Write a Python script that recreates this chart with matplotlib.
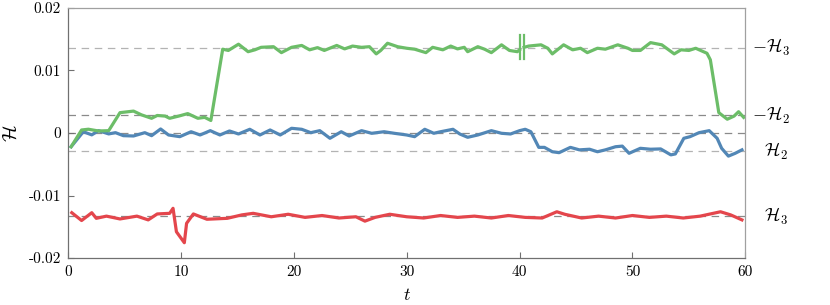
import numpy as np
import matplotlib
matplotlib.use("Agg")
import matplotlib.pyplot as plt

# fonts: computer modern look
plt.rcParams['font.family'] = 'serif'
plt.rcParams['font.serif'] = ['cmr10', 'DejaVu Serif']
plt.rcParams['mathtext.fontset'] = 'cm'
plt.rcParams['axes.unicode_minus'] = False

# values in units of 1e-3
green_t1 = [0.27, 1.2, 1.8, 2.7, 3.6, 4.6, 5.8, 6.5, 7.4, 7.9, 8.6, 9.0, 9.8, 10.6, 11.5, 12.1, 12.65,
            13.7, 14.2, 15.1, 15.95, 16.55, 17.1, 18.2, 18.9, 19.8, 20.7, 21.4, 22.1, 22.7, 23.8, 24.5,
            25.2, 26.0, 26.7, 27.3, 27.7, 28.3, 29.2, 30.0, 30.7, 31.7, 32.3, 33.2, 33.9, 34.5, 35.1,
            35.4, 36.3, 36.9, 37.5, 38.4, 39.1, 39.8, 40.0]
green_v1 = [-2.2, 0.48, 0.6, 0.32, 0.37, 3.25, 3.5, 2.9, 2.35, 2.8, 2.7, 2.35, 2.7, 3.1, 2.35, 2.5, 2.0,
            13.4, 13.2, 14.2, 13.0, 13.3, 13.7, 13.8, 12.85, 13.7, 14.0, 13.3, 13.65, 13.2, 14.0, 13.45,
            13.9, 13.7, 13.8, 12.65, 13.2, 14.35, 13.8, 13.55, 13.4, 12.85, 13.7, 13.3, 13.9, 13.45, 13.7,
            13.0, 13.8, 13.4, 12.85, 14.1, 13.2, 13.0, 13.3]
green_t2 = [40.4, 40.8, 41.9, 42.5, 42.9, 43.9, 44.7, 45.4, 46.0, 46.9, 47.6, 48.7, 49.6, 50.0, 50.7,
            51.6, 52.6, 53.7, 54.3, 55.0, 55.6, 56.6, 56.9, 57.65, 58.4, 59.0, 59.4, 59.85]
green_v2 = [13.7, 13.9, 14.1, 13.55, 12.65, 14.1, 13.3, 13.55, 12.85, 13.55, 13.4, 14.1, 13.55, 13.2, 13.2,
            14.45, 14.1, 12.65, 13.3, 13.2, 13.55, 12.75, 11.7, 3.25, 2.2, 2.7, 3.4, 2.5]

blue_t = [0.27, 1.35, 2.1, 2.7, 3.6, 4.2, 4.9, 5.8, 6.8, 7.4, 8.2, 8.9, 9.9, 10.9, 11.7, 12.6, 13.45, 14.3,
          15.1, 16.1, 17.0, 17.9, 18.8, 19.8, 20.7, 21.5, 22.3, 23.2, 24.2, 24.9, 26.0, 26.9, 28.0, 28.9,
          30.0, 30.7, 31.6, 32.4, 33.0, 34.1, 34.7, 35.4, 36.3, 37.5, 38.4, 39.2, 40.0, 40.5, 41.0, 41.7,
          42.2, 42.9, 43.5, 44.5, 45.3, 46.2, 46.9, 47.6, 48.5, 49.1, 49.7, 50.7, 51.6, 52.5, 53.4, 53.8,
          54.55, 55.1, 55.9, 56.8, 57.5, 57.9, 58.5, 59.1, 59.7]
blue_v = [-2.2, 0.2, -0.3, 0.37, -0.15, 0.05, -0.43, -0.48, 0.05, -0.43, 0.64, -0.32, -0.59, 0.2, -0.32,
          0.37, -0.32, 0.32, -0.16, 0.59, -0.32, 0.48, -0.32, 0.75, 0.59, 0.05, 0.37, -0.85, 0.2, -0.48,
          0.37, -0.05, 0.2, -0.05, -0.32, -0.59, 0.59, -0.05, 0.2, 0.59, -0.16, -0.69, -0.32, 0.37, -0.05,
          -0.16, 0.37, 0.59, 0.2, -2.3, -2.3, -3.0, -3.15, -2.3, -2.7, -2.6, -3.0, -2.7, -2.2, -2.1,
          -3.25, -2.45, -2.6, -2.55, -3.5, -3.35, -0.85, -0.59, 0.05, 0.37, -0.85, -2.45, -3.7, -3.25, -2.7]

red_t = [0.33, 1.2, 2.1, 2.5, 3.4, 4.6, 6.1, 7.1, 7.9, 9.0, 9.3, 9.6, 10.3, 10.5, 11.1, 12.3, 14.1, 15.4,
         16.4, 18.0, 19.5, 21.0, 22.5, 24.0, 25.5, 26.3, 27.2, 28.5, 30.0, 31.5, 33.0, 34.5, 36.0, 37.5,
         39.0, 40.5, 42.0, 43.3, 44.0, 45.5, 47.0, 48.5, 50.0, 51.5, 53.0, 54.5, 56.0, 57.8, 58.7, 59.7]
red_v = [-12.75, -14.0, -12.75, -13.65, -13.3, -13.75, -13.3, -13.9, -12.95, -12.85, -12.05, -15.8, -17.55,
         -14.45, -12.95, -13.8, -13.65, -13.1, -12.85, -13.4, -13.0, -13.5, -13.2, -13.6, -13.4, -14.1,
         -13.5, -13.0, -13.4, -13.6, -13.2, -13.5, -13.3, -13.6, -13.2, -13.5, -13.6, -12.6, -13.0, -13.6,
         -13.3, -13.6, -13.2, -13.5, -13.3, -13.6, -13.3, -12.6, -13.1, -13.9]

# reference levels (1e-3) and their right-hand labels
levels = [13.6, 2.88, 0.0, -2.88, -13.35]
level_colors = ['#b3b3b3', '#8a8a8a', '#8a8a8a', '#b3b3b3', '#8a8a8a']
level_labels = [r'${-}\mathcal{H}_3$', r'${-}\mathcal{H}_2$', None, r'$\mathcal{H}_2$', r'$\mathcal{H}_3$']

break_t = [40.0, 40.4]
break_span = [11.8, 15.7]

s = 1e-3
fig = plt.figure(figsize=(8.3, 3.05), dpi=100)
ax = fig.add_axes([0.082, 0.154, 0.816, 0.820])

for lv, lc in zip(levels, level_colors):
    ax.axhline(lv * s, color=lc, lw=0.9, ls=(0, (6, 4.5)), zorder=1)

lw = 2.3
ax.plot(blue_t, np.array(blue_v) * s, color='#5287b6', lw=lw, zorder=3)
ax.plot(green_t1, np.array(green_v1) * s, color='#6cbd68', lw=lw, zorder=4)
ax.plot(green_t2, np.array(green_v2) * s, color='#6cbd68', lw=lw, zorder=4)
ax.plot(red_t, np.array(red_v) * s, color='#e4464c', lw=lw, zorder=3)
for bt in break_t:
    ax.plot([bt, bt], np.array(break_span) * s, color='#6cbd68', lw=1.6, zorder=4)

ax.set_xlim(0, 60)
ax.set_ylim(-0.02, 0.02)
ax.set_xticks([0, 10, 20, 30, 40, 50, 60])
ax.set_xticklabels(['0', '10', '20', '30', '40', '50', '60'])
ax.set_yticks([-0.02, -0.01, 0, 0.01, 0.02])
ax.set_yticklabels(['-0.02', '-0.01', '0', '0.01', '0.02'])
ax.tick_params(direction='in', length=4, color='#707070', labelsize=11, pad=5)
for sp in ax.spines.values():
    sp.set_color('#a0a0a0')
    sp.set_linewidth(0.9)
ax.spines['left'].set_color('#707070')
ax.spines['bottom'].set_color('#707070')

ax.set_xlabel(r'$t$', fontsize=13, labelpad=6)
ax.set_ylabel(r'$\mathcal{H}$', fontsize=14, labelpad=6)

for lv, lab in zip(levels, level_labels):
    if lab is None:
        continue
    xpos = 1.01 if lab.startswith(r'${-}') else 1.027
    ax.text(xpos, lv * s, lab, transform=ax.get_yaxis_transform(), ha='left', va='center', fontsize=13)

fig.savefig('out.png', dpi=100)
